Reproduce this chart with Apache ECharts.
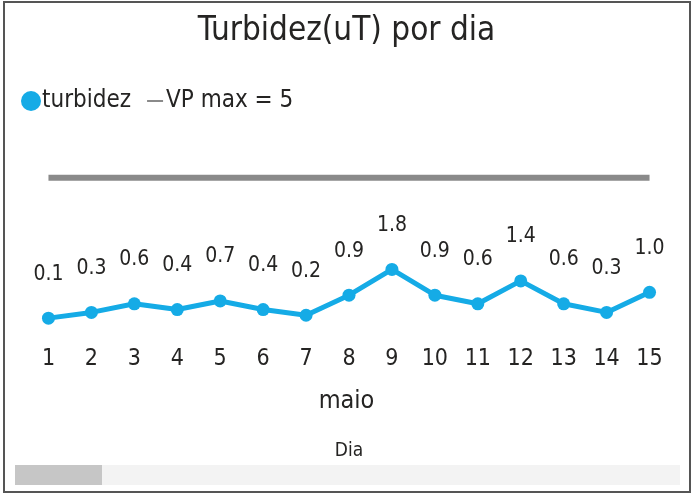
<!DOCTYPE html>
<html><head><meta charset="utf-8">
<script src="https://cdn.jsdelivr.net/npm/echarts@6/dist/echarts.min.js"></script>
<style>html,body{margin:0;padding:0;background:#fff}#c{width:693px;height:497px}</style>
</head><body><div id="c"></div>
<script>
const days = ['1','2','3','4','5','6','7','8','9','10','11','12','13','14','15'];
const turbidez = [0.1,0.3,0.6,0.4,0.7,0.4,0.2,0.9,1.8,0.9,0.6,1.4,0.6,0.3,1.0];
const vpMax = [5,5,5,5,5,5,5,5,5,5,5,5,5,5,5];
const font = '"Liberation Sans Narrow", "DejaVu Sans Condensed", "Open Sans", sans-serif';
const chart = echarts.init(document.getElementById('c'));
chart.setOption({
  animation:false,
  backgroundColor:'#fff',
  title:{text:'Turbidez(uT) por dia',left:'center',top:10,textStyle:{fontFamily:font,fontSize:33,fontWeight:'normal',color:'#252423'}},
  legend:{left:16,top:84,itemGap:14,itemWidth:20,itemHeight:20,textStyle:{fontFamily:font,fontSize:24,color:'#252423',padding:[0,0,0,-4]},
    data:[{name:'turbidez',icon:'circle'},{name:'VP max = 5',icon:'path://M0,0 M2,9 L18,9 L18,11 L2,11 Z M20,20'}]},
  grid:{left:27,right:22,top:172,bottom:176},
  xAxis:{type:'category',data:days,boundaryGap:true,axisLine:{show:false},axisTick:{show:false},
    axisLabel:{margin:27,fontFamily:font,fontSize:23,color:'#252423'},
    name:'Dia',nameLocation:'middle',nameGap:121,nameTextStyle:{fontFamily:font,fontSize:19,color:'#252423'}},
  yAxis:{type:'value',min:0,max:5.2,show:false,splitLine:{show:false}},
  graphic:[
    {type:'text',left:'center',top:389,style:{text:'maio',font:'25px '+font,fill:'#252423'}},
    {type:'rect',shape:{x:15,y:465,width:665,height:20},style:{fill:'#f3f3f3'}},
    {type:'rect',shape:{x:15,y:465,width:87,height:20},style:{fill:'#c6c6c6'}},
    {type:'rect',shape:{x:4,y:2,width:686,height:490},style:{fill:'none',stroke:'#555',lineWidth:2}}
  ],
  series:[
    {name:'turbidez',type:'line',data:turbidez,symbol:'circle',symbolSize:13,
      lineStyle:{width:5,color:'#15ABE6'},itemStyle:{color:'#15ABE6'},
      label:{show:true,position:'top',distance:27,formatter:p=>p.value.toFixed(1),fontFamily:font,fontSize:21,color:'#252423'}},
    {name:'VP max = 5',type:'line',data:vpMax,symbol:'none',
      lineStyle:{width:6,color:'#8a8a8a'},itemStyle:{color:'#8a8a8a'}}
  ]
});
</script></body></html>
